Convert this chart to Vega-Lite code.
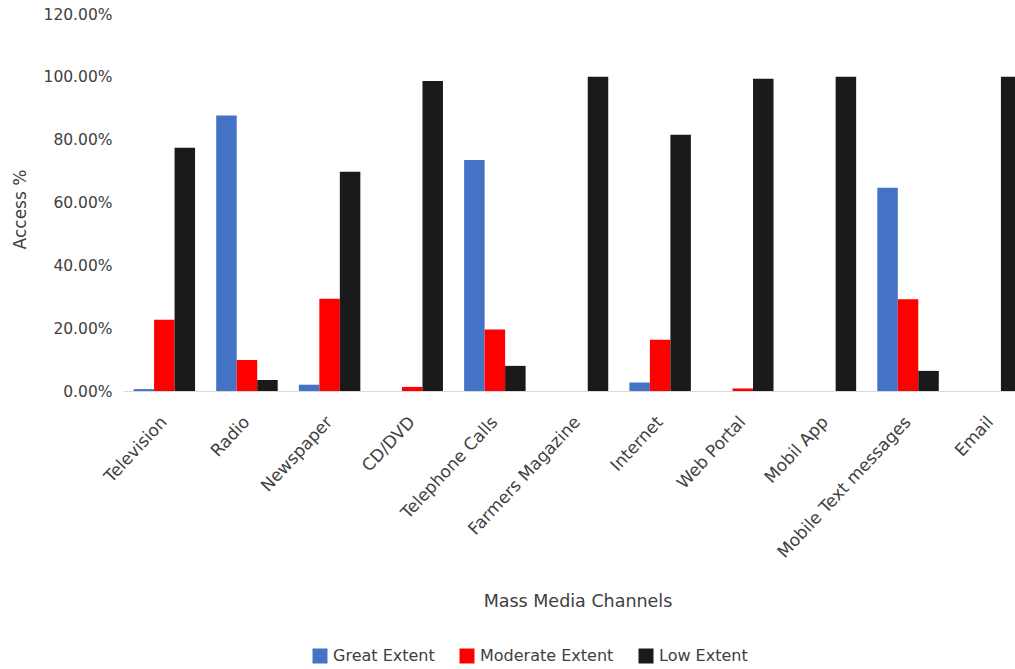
{
  "$schema": "https://vega.github.io/schema/vega-lite/v6.json",
  "autosize": {"type": "none"},
  "width": 892,
  "height": 377,
  "padding": {"left": 123, "top": 14, "right": 0, "bottom": 278},
  "background": "white",
  "config": {
    "view": {"stroke": null},
    "font": "DejaVu Sans",
    "axis": {"labelFont": "DejaVu Sans", "titleFont": "DejaVu Sans", "labelColor": "#404040", "titleColor": "#404040", "titleFontWeight": "normal"},
    "legend": {"labelFont": "DejaVu Sans", "labelColor": "#404040"}
  },
  "data": {
    "values": [
      {"channel": "Television", "extent": "Great Extent", "access": 0.006},
      {"channel": "Television", "extent": "Moderate Extent", "access": 0.227},
      {"channel": "Television", "extent": "Low Extent", "access": 0.774},
      {"channel": "Radio", "extent": "Great Extent", "access": 0.877},
      {"channel": "Radio", "extent": "Moderate Extent", "access": 0.099},
      {"channel": "Radio", "extent": "Low Extent", "access": 0.035},
      {"channel": "Newspaper", "extent": "Great Extent", "access": 0.02},
      {"channel": "Newspaper", "extent": "Moderate Extent", "access": 0.294},
      {"channel": "Newspaper", "extent": "Low Extent", "access": 0.698},
      {"channel": "CD/DVD", "extent": "Great Extent", "access": 0},
      {"channel": "CD/DVD", "extent": "Moderate Extent", "access": 0.013},
      {"channel": "CD/DVD", "extent": "Low Extent", "access": 0.987},
      {"channel": "Telephone Calls", "extent": "Great Extent", "access": 0.735},
      {"channel": "Telephone Calls", "extent": "Moderate Extent", "access": 0.196},
      {"channel": "Telephone Calls", "extent": "Low Extent", "access": 0.08},
      {"channel": "Farmers Magazine", "extent": "Great Extent", "access": 0},
      {"channel": "Farmers Magazine", "extent": "Moderate Extent", "access": 0},
      {"channel": "Farmers Magazine", "extent": "Low Extent", "access": 1.0},
      {"channel": "Internet", "extent": "Great Extent", "access": 0.027},
      {"channel": "Internet", "extent": "Moderate Extent", "access": 0.163},
      {"channel": "Internet", "extent": "Low Extent", "access": 0.816},
      {"channel": "Web Portal", "extent": "Great Extent", "access": 0},
      {"channel": "Web Portal", "extent": "Moderate Extent", "access": 0.008},
      {"channel": "Web Portal", "extent": "Low Extent", "access": 0.994},
      {"channel": "Mobil App", "extent": "Great Extent", "access": 0},
      {"channel": "Mobil App", "extent": "Moderate Extent", "access": 0},
      {"channel": "Mobil App", "extent": "Low Extent", "access": 1.0},
      {"channel": "Mobile Text messages", "extent": "Great Extent", "access": 0.647},
      {"channel": "Mobile Text messages", "extent": "Moderate Extent", "access": 0.292},
      {"channel": "Mobile Text messages", "extent": "Low Extent", "access": 0.064},
      {"channel": "Email", "extent": "Great Extent", "access": 0},
      {"channel": "Email", "extent": "Moderate Extent", "access": 0},
      {"channel": "Email", "extent": "Low Extent", "access": 1.0}
    ]
  },
  "mark": {"type": "bar"},
  "encoding": {
    "x": {
      "field": "channel",
      "type": "nominal",
      "sort": ["Television", "Radio", "Newspaper", "CD/DVD", "Telephone Calls", "Farmers Magazine", "Internet", "Web Portal", "Mobil App", "Mobile Text messages", "Email"],
      "scale": {"range": [0, 909], "paddingInner": 0.256, "paddingOuter": 0.128},
      "axis": {
        "title": "Mass Media Channels",
        "titleFontSize": 17.5,
        "titleBaseline": "middle",
        "titleY": 210,
        "labelAngle": -47,
        "labelFontSize": 17,
        "labelPadding": 28,
        "labelDx": 3,
        "labelLimit": 300,
        "ticks": false,
        "domainColor": "#d9d9d9",
        "domainWidth": 1
      }
    },
    "xOffset": {
      "field": "extent",
      "type": "nominal",
      "sort": ["Great Extent", "Moderate Extent", "Low Extent"],
      "scale": {"paddingInner": 0, "paddingOuter": 0}
    },
    "y": {
      "field": "access",
      "type": "quantitative",
      "scale": {"domain": [0, 1.2], "nice": false},
      "axis": {
        "title": "Access  %",
        "titleFontSize": 17,
        "titleX": -103,
        "titleY": 195,
        "titleAngle": -90,
        "titleBaseline": "middle",
        "format": ".2%",
        "values": [0, 0.2, 0.4, 0.6, 0.8, 1.0, 1.2],
        "labelFontSize": 15.5,
        "labelPadding": 11,
        "ticks": false,
        "domain": false,
        "grid": false
      }
    },
    "color": {
      "field": "extent",
      "type": "nominal",
      "sort": ["Great Extent", "Moderate Extent", "Low Extent"],
      "scale": {"domain": ["Great Extent", "Moderate Extent", "Low Extent"], "range": ["#4472C4", "#FF0000", "#1A1A1A"]},
      "legend": {
        "title": null,
        "orient": "none",
        "direction": "horizontal",
        "legendX": 189,
        "legendY": 634,
        "symbolType": "square",
        "symbolSize": 225,
        "symbolStrokeWidth": 0,
        "symbolOpacity": 1,
        "labelFontSize": 16,
        "labelOffset": 5,
        "columnPadding": 24
      }
    }
  }
}
